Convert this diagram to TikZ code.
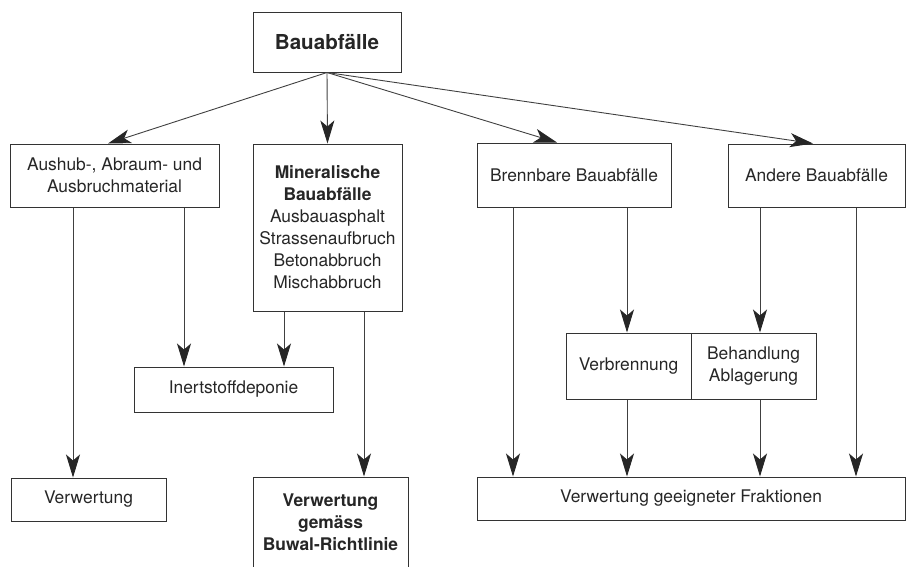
\documentclass[tikz,border=0pt]{standalone}
\usepackage{fontspec}
\setmainfont{TeX Gyre Heros}
\usetikzlibrary{arrows.meta}

\begin{document}
\begin{tikzpicture}[x=1pt, y=-1pt,
        box/.style={draw=black!80, line width=1pt, inner sep=0pt, align=center, text=black!85,
            font=\fontsize{17.4}{22}\selectfont},
        arr/.style={draw=black!75, line width=0.9pt, -{Stealth[length=23pt, width=14pt, inset=6pt, color=black!85]}}]
                \useasboundingbox (0,0) rectangle (907,566);
                \node[box, minimum width=148pt, minimum height=60pt, font=\fontsize{20.6}{24}\selectfont\bfseries](bau) at (327,42) {Bauabfälle};
                \node[box, minimum width=209pt, minimum height=63pt](aus) at (114.5,175.5) {Aushub-, Abraum- und\\Ausbruchmaterial};
                \node[box, minimum width=149pt, minimum height=167pt](min) at (327.5,227.5) {\textbf{Mineralische}\\\textbf{Bauabfälle}\\Ausbauasphalt\\Strassenaufbruch\\Betonabbruch\\Mischabbruch};
                \node[box, minimum width=194pt, minimum height=64pt](brenn) at (574,175) {Brennbare Bauabfälle};
                \node[box, minimum width=177pt, minimum height=63pt](andere) at (816.5,175.5) {Andere Bauabfälle};
                \node[box, minimum width=199pt, minimum height=45pt](inert) at (233.5,389.5) {Inertstoffdeponie};
                \node[box, minimum width=125pt, minimum height=66pt](verbr) at (628.5,366) {Verbrennung};
                \node[box, minimum width=125pt, minimum height=66pt](behand) at (753.5,366) {Behandlung\\Ablagerung};
                \node[box, minimum width=155pt, minimum height=43pt](verw) at (88.5,499.5) {Verwertung};
                \node[box, minimum width=155pt, minimum height=90pt](buwal) at (330.5,522) {\textbf{Verwertung}\\\textbf{gemäss}\\\textbf{Buwal-Richtlinie}};
                \node[box, minimum width=428pt, minimum height=43pt](frakt) at (691,498.5) {Verwertung geeigneter Fraktionen};
                \draw[arr](bau.south)--([xshift=-6.5pt]aus.north);
                \draw[arr](bau.south)--(min.north);
                \draw[arr](bau.south)--([xshift=-17pt]brenn.north);
                \draw[arr](bau.south)--([xshift=-3.5pt]andere.north);
                \draw[arr]([xshift=-41.5pt]aus.south)--([xshift=-41.5pt]aus.south |- verw.north);
                \draw[arr]([xshift=69.5pt]aus.south)--([xshift=69.5pt]aus.south |- inert.north);
                \draw[arr]([xshift=-43.5pt]min.south)--([xshift=-43.5pt]min.south |- inert.north);
                \draw[arr]([xshift=36.5pt]min.south)--([xshift=36.5pt]min.south |- buwal.north);
                \draw[arr]([xshift=-61pt]brenn.south)--([xshift=-61pt]brenn.south |- frakt.north);
                \draw[arr]([xshift=53pt]brenn.south)--([xshift=53pt]brenn.south |- verbr.north);
                \draw[arr]([xshift=-56.5pt]andere.south)--([xshift=-56.5pt]andere.south |- behand.north);
                \draw[arr]([xshift=39.5pt]andere.south)--([xshift=39.5pt]andere.south |- frakt.north);
                \draw[arr]([xshift=-1.5pt]verbr.south)--([xshift=-1.5pt]verbr.south |- frakt.north);
                \draw[arr]([xshift=6.5pt]behand.south)--([xshift=6.5pt]behand.south |- frakt.north);
            \end{tikzpicture}
\end{document}
